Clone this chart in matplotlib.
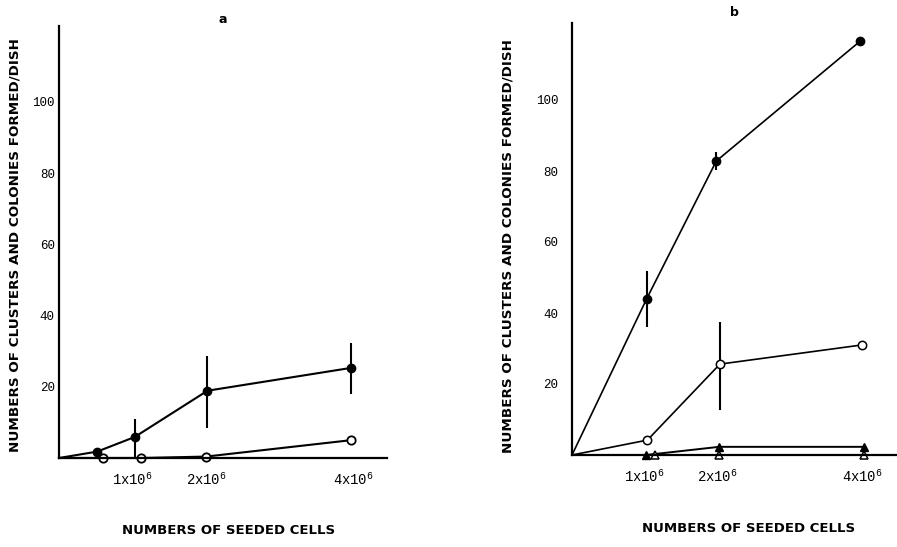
import matplotlib.pyplot as plt

# panel a: cells seeded (x 10^6) vs clusters+colonies per dish
a_filled_x = [0, 0.52, 1.03, 2.02, 3.97]
a_filled_y = [0, 1.8, 5.9, 18.9, 25.3]
a_filled_lo = [0, 0, 5.9, 10.5, 7.4]
a_filled_hi = [0, 0, 5.1, 9.8, 6.9]
a_open_x = [0, 0.6, 1.12, 2.0, 3.97]
a_open_y = [0, 0, 0, 0.4, 5.0]

# panel b
b_filled_x = [0, 1.03, 1.99, 3.97]
b_filled_y = [0, 44, 82.8, 116.5]
b_filled_lo = [0, 8, 2.5, 0]
b_filled_hi = [0, 7.7, 2.5, 0]
b_open_x = [0, 1.04, 2.04, 4.0]
b_open_y = [0, 4.2, 25.6, 31]
b_open_lo = [0, 1.5, 12.8, 0]
b_open_hi = [0, 1.0, 12.0, 0]
b_tri_x = [1.02, 2.03, 4.03]
b_tri_y = [0, 2.3, 2.3]
b_otri_x = [1.15, 2.03, 4.03]
b_otri_y = [0, 0, 0]

y_ticks = [20, 40, 60, 80, 100]
x_ticks = [1, 2, 4]
x_tick_labels = ['1x10$^{\\mathregular{6}}$', '2x10$^{\\mathregular{6}}$', '4x10$^{\\mathregular{6}}$']
y_label = 'NUMBERS OF CLUSTERS AND COLONIES FORMED/DISH'
x_label = 'NUMBERS OF SEEDED CELLS'

W, H = 897, 547
fig = plt.figure(figsize=(W / 100, H / 100), dpi=100)
tick_font = 'Liberation Mono'


def setup(ax, xmax, ymax, ypad):
    ax.set_xlim(0, xmax)
    ax.set_ylim(0, ymax)
    for s in ['top', 'right']:
        ax.spines[s].set_visible(False)
    for s in ['left', 'bottom']:
        ax.spines[s].set_linewidth(1.6)
    ax.set_yticks(y_ticks)
    ax.set_yticklabels([str(t) for t in y_ticks], family=tick_font, fontsize=9)
    ax.set_xticks(x_ticks)
    ax.set_xticklabels(x_tick_labels, family=tick_font, fontsize=10)
    ax.tick_params(axis='y', length=0, pad=ypad)
    ax.tick_params(axis='x', length=0, pad=10)
    ax.patch.set_visible(False)


def skip0(xs):
    # no marker at the origin, the curves just start there
    return list(range(1, len(xs)))


# panel a
ax1 = fig.add_axes([59 / W, 1 - 458 / H, 328 / W, 432 / H])
setup(ax1, 328 / 73.5, 432 / 3.56, 3)
ax1.errorbar(a_filled_x, a_filled_y, yerr=[a_filled_lo, a_filled_hi], color='black',
             lw=1.5, marker='o', ms=6, elinewidth=1.5, capsize=0, clip_on=False,
             markevery=skip0(a_filled_x))
ax1.plot(a_open_x, a_open_y, color='black', lw=1.5, marker='o', ms=6,
         mfc='white', mew=1.3, clip_on=False, markevery=skip0(a_open_x))
ax1.set_title('a', fontsize=9, fontweight='bold', pad=1)

# panel b
ax2 = fig.add_axes([572 / W, 1 - 455 / H, 325 / W, 432 / H])
setup(ax2, 325 / 72.5, 432 / 3.55, 10)
ax2.errorbar(b_filled_x, b_filled_y, yerr=[b_filled_lo, b_filled_hi], color='black',
             lw=1.2, marker='o', ms=6, elinewidth=1.5, capsize=0, clip_on=False,
             markevery=skip0(b_filled_x))
ax2.errorbar(b_open_x, b_open_y, yerr=[b_open_lo, b_open_hi], color='black',
             lw=1.2, marker='o', ms=6, mfc='white', mew=1.1, elinewidth=1.5,
             capsize=0, clip_on=False, markevery=skip0(b_open_x))
ax2.plot(b_tri_x, b_tri_y, color='black', lw=1.4, marker='^', ms=6, clip_on=False)
ax2.plot(b_otri_x, b_otri_y, color='black', lw=1.4, marker='^', ms=6,
         mfc='white', mew=1.1, clip_on=False)
ax2.set_title('b', fontsize=9, fontweight='bold', pad=5)

# axis titles placed by hand like the scanned figure
fig.text(15 / W, 1 - 245 / H, y_label, rotation=90, ha='center', va='center',
         fontsize=9.7, fontweight='bold')
fig.text(508 / W, 1 - 246 / H, y_label, rotation=90, ha='center', va='center',
         fontsize=9.7, fontweight='bold')
fig.text(229 / W, 1 - 530 / H, x_label, ha='center', va='center',
         fontsize=9.5, fontweight='bold')
fig.text(749 / W, 1 - 528 / H, x_label, ha='center', va='center',
         fontsize=9.5, fontweight='bold')

fig.savefig('out.png', dpi=100)
